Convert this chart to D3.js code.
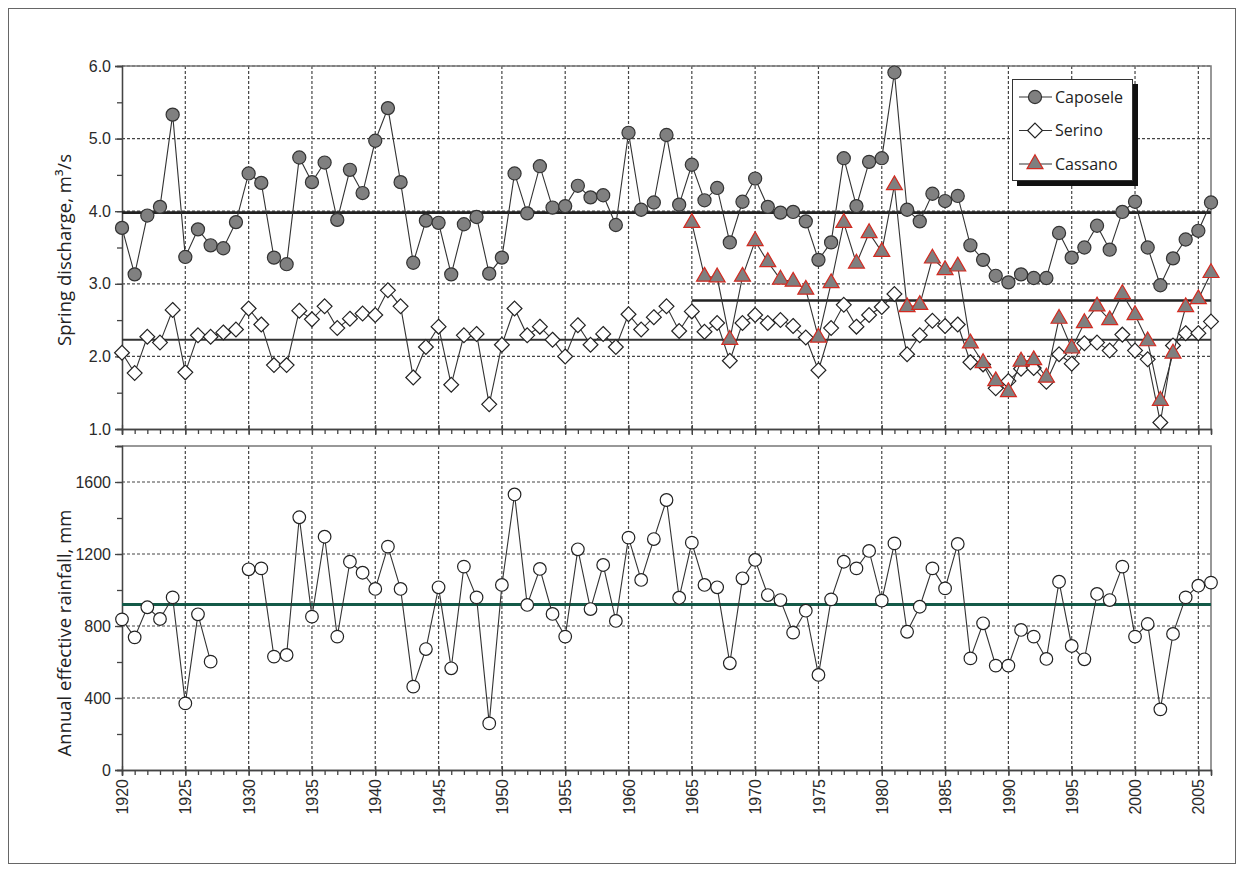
<!DOCTYPE html>
<html>
<head>
<meta charset="utf-8">
<script src="https://cdn.jsdelivr.net/npm/d3@7"></script>
<style>
    body { margin: 0; background: #fff; }
    svg { display: block; font-family: "Open Sans", "Liberation Sans", sans-serif; }
    .grid line { stroke: #444; stroke-width: 1.2; stroke-dasharray: 3,2; }
    .axis path, .axis line { stroke: #444; stroke-width: 1.3; }
    .axis text { font-size: 16px; fill: #2a2a2a; }
</style>
</head>
<body>
<svg id="chart" width="1244" height="872"></svg>
<script>
(function(){
    "use strict";

    var years = d3.range(1920, 2007);
    var cassanoYears = d3.range(1965, 2007);

    var caposele = [3.77, 3.13, 3.94, 4.06, 5.33, 3.37, 3.75, 3.53, 3.49, 3.85,
        4.52, 4.39, 3.36, 3.27, 4.74, 4.40, 4.67, 3.88, 4.57, 4.25,
        4.97, 5.42, 4.40, 3.29, 3.87, 3.84, 3.13, 3.82, 3.92, 3.14,
        3.36, 4.52, 3.97, 4.62, 4.05, 4.07, 4.35, 4.19, 4.22, 3.81,
        5.08, 4.02, 4.12, 5.05, 4.09, 4.64, 4.15, 4.32, 3.57, 4.13,
        4.45, 4.06, 3.98, 3.99, 3.86, 3.33, 3.57, 4.73, 4.07, 4.68,
        4.73, 5.91, 4.02, 3.86, 4.24, 4.14, 4.21, 3.53, 3.33, 3.11,
        3.02, 3.13, 3.08, 3.08, 3.70, 3.36, 3.50, 3.80, 3.47, 3.99,
        4.13, 3.50, 2.98, 3.35, 3.61, 3.73, 4.12];

    var serino = [2.05, 1.77, 2.27, 2.19, 2.64, 1.78, 2.29, 2.27, 2.33, 2.37,
        2.66, 2.44, 1.88, 1.88, 2.63, 2.51, 2.69, 2.39, 2.52, 2.59,
        2.57, 2.91, 2.69, 1.71, 2.13, 2.41, 1.61, 2.29, 2.31, 1.34,
        2.16, 2.66, 2.29, 2.41, 2.23, 2.00, 2.43, 2.16, 2.31, 2.13,
        2.58, 2.37, 2.54, 2.69, 2.35, 2.62, 2.34, 2.46, 1.94, 2.46,
        2.57, 2.46, 2.50, 2.42, 2.26, 1.81, 2.39, 2.71, 2.41, 2.57,
        2.68, 2.86, 2.03, 2.29, 2.49, 2.42, 2.44, 1.92, 1.89, 1.56,
        1.66, 1.83, 1.84, 1.65, 2.03, 1.90, 2.18, 2.19, 2.08, 2.30,
        2.08, 1.96, 1.09, 2.15, 2.32, 2.32, 2.48];

    var cassano = [3.84, 3.10, 3.09, 2.23, 3.10, 3.59, 3.30, 3.06, 3.03, 2.92,
        2.26, 3.01, 3.84, 3.28, 3.70, 3.44, 4.36, 2.68, 2.71, 3.35,
        3.19, 3.24, 2.18, 1.91, 1.66, 1.51, 1.93, 1.95, 1.71, 2.52,
        2.11, 2.46, 2.69, 2.50, 2.86, 2.57, 2.21, 1.39, 2.04, 2.68,
        2.79, 3.15];

    // 1928 and 1929 are missing in the rainfall record
    var rainfall = [837, 737, 904, 839, 959, 370, 865, 602, null, null,
        1115, 1120, 630, 639, 1404, 852, 1296, 741, 1157, 1096,
        1006, 1241, 1006, 463, 672, 1015, 565, 1130, 959, 259,
        1028, 1531, 917, 1117, 867, 741, 1226, 894, 1139, 828,
        1291, 1056, 1283, 1500, 957, 1263, 1028, 1015, 593, 1065,
        1167, 972, 944, 763, 885, 528, 948, 1157, 1120, 1217,
        941, 1259, 768, 907, 1120, 1009, 1256, 620, 815, 580,
        580, 778, 741, 617, 1046, 689, 615, 978, 944, 1130,
        741, 811, 337, 756, 959, 1024, 1041];

    var meanCaposele = 3.98;
    var meanSerino = 2.23;
    var meanCassano = 2.77;
    var meanRainfall = 920;

    var dischargeTicks = [1, 2, 3, 4, 5, 6];
    var rainfallTicks = [0, 400, 800, 1200, 1600];
    var yearTicks = d3.range(1920, 2006, 5);

    var svg = d3.select("#chart");

    var left = 122, right = 1211;
    var x = d3.scaleLinear().domain([1920, 2006]).range([left, right]);
    var yTop = d3.scaleLinear().domain([1, 6]).range([429, 66]);
    var yBot = d3.scaleLinear().domain([0, 1800]).range([770, 446]);

    // outer frame
    svg.append("rect")
        .attr("x", 8.5).attr("y", 8.5)
        .attr("width", 1227).attr("height", 855)
        .attr("fill", "none").attr("stroke", "#666").attr("stroke-width", 1);

    /*
        draws grid, border and axes of one panel
    */
    function buildPanel(y, majors, minorStep, fmt, showYears){
        var d = y.domain();
        var g = svg.append("g");

        var grid = g.append("g").attr("class", "grid");
        grid.selectAll(".v")
            .data(yearTicks.slice(1))
            .enter().append("line")
            .attr("x1", function(t){ return x(t); })
            .attr("x2", function(t){ return x(t); })
            .attr("y1", y(d[1])).attr("y2", y(d[0]));
        grid.selectAll(".h")
            .data(majors.filter(function(t){ return t > d[0]; }))
            .enter().append("line")
            .attr("x1", left).attr("x2", right)
            .attr("y1", function(t){ return y(t); })
            .attr("y2", function(t){ return y(t); });

        // top and right border
        g.append("path")
            .attr("d", "M" + left + "," + y(d[1]) + "H" + right + "V" + y(d[0]))
            .attr("fill", "none").attr("stroke", "#777").attr("stroke-width", 1.5);

        var minors = d3.range(d[0], d[1] + minorStep / 2, minorStep);
        g.append("g").attr("class", "axis")
            .attr("transform", "translate(" + left + ",0)")
            .call(d3.axisLeft(y).tickValues(minors).tickSize(5).tickFormat(""));
        g.append("g").attr("class", "axis")
            .attr("transform", "translate(" + left + ",0)")
            .call(d3.axisLeft(y).tickValues(majors).tickSize(7).tickPadding(4).tickFormat(fmt));

        g.append("g").attr("class", "axis")
            .attr("transform", "translate(0," + y(d[0]) + ")")
            .call(d3.axisBottom(x).tickValues(years).tickSize(5).tickFormat(""));
        var xa = g.append("g").attr("class", "axis")
            .attr("transform", "translate(0," + y(d[0]) + ")")
            .call(d3.axisBottom(x).tickValues(yearTicks).tickSize(6)
                .tickFormat(showYears ? d3.format("d") : ""));
        xa.selectAll(".tick line").attr("y1", -4);
        if(showYears){
            xa.selectAll("text")
                .attr("transform", "rotate(-90)")
                .attr("x", -9).attr("y", 0).attr("dy", "0.35em")
                .style("text-anchor", "end");
        }
        g.selectAll(".axis .domain").attr("stroke", "#333");
    }

    /*
        draws a horizontal mean line between two years
    */
    function meanLine(y, value, from, to, color, width){
        svg.append("line")
            .attr("x1", x(from)).attr("x2", x(to))
            .attr("y1", y(value)).attr("y2", y(value))
            .attr("stroke", color).attr("stroke-width", width);
    }

    /*
        draws a connected series with symbol markers
    */
    function drawSeries(y, xs, values, symbolType, size, fill, stroke){
        var data = xs.map(function(yr, i){ return {year: yr, value: values[i]}; });
        var line = d3.line()
            .defined(function(p){ return p.value !== null; })
            .x(function(p){ return x(p.year); })
            .y(function(p){ return y(p.value); });
        svg.append("path")
            .datum(data)
            .attr("d", line)
            .attr("fill", "none").attr("stroke", "#333").attr("stroke-width", 1.1);
        var sym = d3.symbol().type(symbolType).size(size);
        svg.append("g").selectAll("path")
            .data(data.filter(function(p){ return p.value !== null; }))
            .enter().append("path")
            .attr("d", sym)
            .attr("transform", function(p){
                return "translate(" + x(p.year) + "," + y(p.value) + ")";
            })
            .attr("fill", fill).attr("stroke", stroke).attr("stroke-width", 1.2);
    }

    buildPanel(yTop, dischargeTicks, 0.5, d3.format(".1f"), false);
    buildPanel(yBot, rainfallTicks, 200, d3.format("d"), true);

    meanLine(yTop, meanCaposele, 1920, 2006, "#222", 2.6);
    meanLine(yTop, meanSerino, 1920, 2006, "#333", 2);
    meanLine(yTop, meanCassano, 1965, 2006, "#222", 2.6);
    meanLine(yBot, meanRainfall, 1920, 2006, "#145a48", 3);

    drawSeries(yTop, years, serino, d3.symbolDiamond2, 140, "#fff", "#222");
    drawSeries(yTop, years, caposele, d3.symbolCircle, 135, "#808080", "#333");
    drawSeries(yTop, cassanoYears, cassano, d3.symbolTriangle, 110, "#7f7f7f", "#d42a20");
    drawSeries(yBot, years, rainfall, d3.symbolCircle, 125, "#fff", "#222");

    // axis titles
    svg.append("text")
        .attr("transform", "translate(71,250) rotate(-90)")
        .attr("text-anchor", "middle")
        .style("font-size", "18.5px").attr("fill", "#222")
        .text("Spring discharge, m³/s");
    svg.append("text")
        .attr("transform", "translate(71,633) rotate(-90)")
        .attr("text-anchor", "middle")
        .style("font-size", "18.5px").attr("fill", "#222")
        .text("Annual effective rainfall, mm");

    // legend
    var legendNames = ["Caposele", "Serino", "Cassano"];
    var legendSymbols = [
        {type: d3.symbolCircle, size: 135, fill: "#808080", stroke: "#333"},
        {type: d3.symbolDiamond2, size: 140, fill: "#fff", stroke: "#222"},
        {type: d3.symbolTriangle, size: 110, fill: "#7f7f7f", stroke: "#d42a20"}
    ];
    var lg = svg.append("g").attr("transform", "translate(1012,79)");
    lg.append("rect").attr("x", 5).attr("y", 5).attr("width", 121).attr("height", 102).attr("fill", "#111");
    lg.append("rect").attr("x", 0.5).attr("y", 0.5).attr("width", 120).attr("height", 101)
        .attr("fill", "#fff").attr("stroke", "#333").attr("stroke-width", 1);
    var items = lg.selectAll(".item")
        .data(legendNames)
        .enter().append("g")
        .attr("transform", function(d, i){ return "translate(0," + (18 + i * 33.5) + ")"; });
    items.append("line")
        .attr("x1", 7).attr("x2", 40)
        .attr("stroke", "#333").attr("stroke-width", 1.1);
    items.append("path")
        .attr("transform", "translate(23,0)")
        .attr("d", function(d, i){ return d3.symbol().type(legendSymbols[i].type).size(legendSymbols[i].size)(); })
        .attr("fill", function(d, i){ return legendSymbols[i].fill; })
        .attr("stroke", function(d, i){ return legendSymbols[i].stroke; })
        .attr("stroke-width", 1.2);
    items.append("text")
        .attr("x", 43).attr("dy", "0.35em")
        .style("font-size", "16px").attr("fill", "#222")
        .text(function(d){ return d; });
}());
</script>
</body>
</html>
